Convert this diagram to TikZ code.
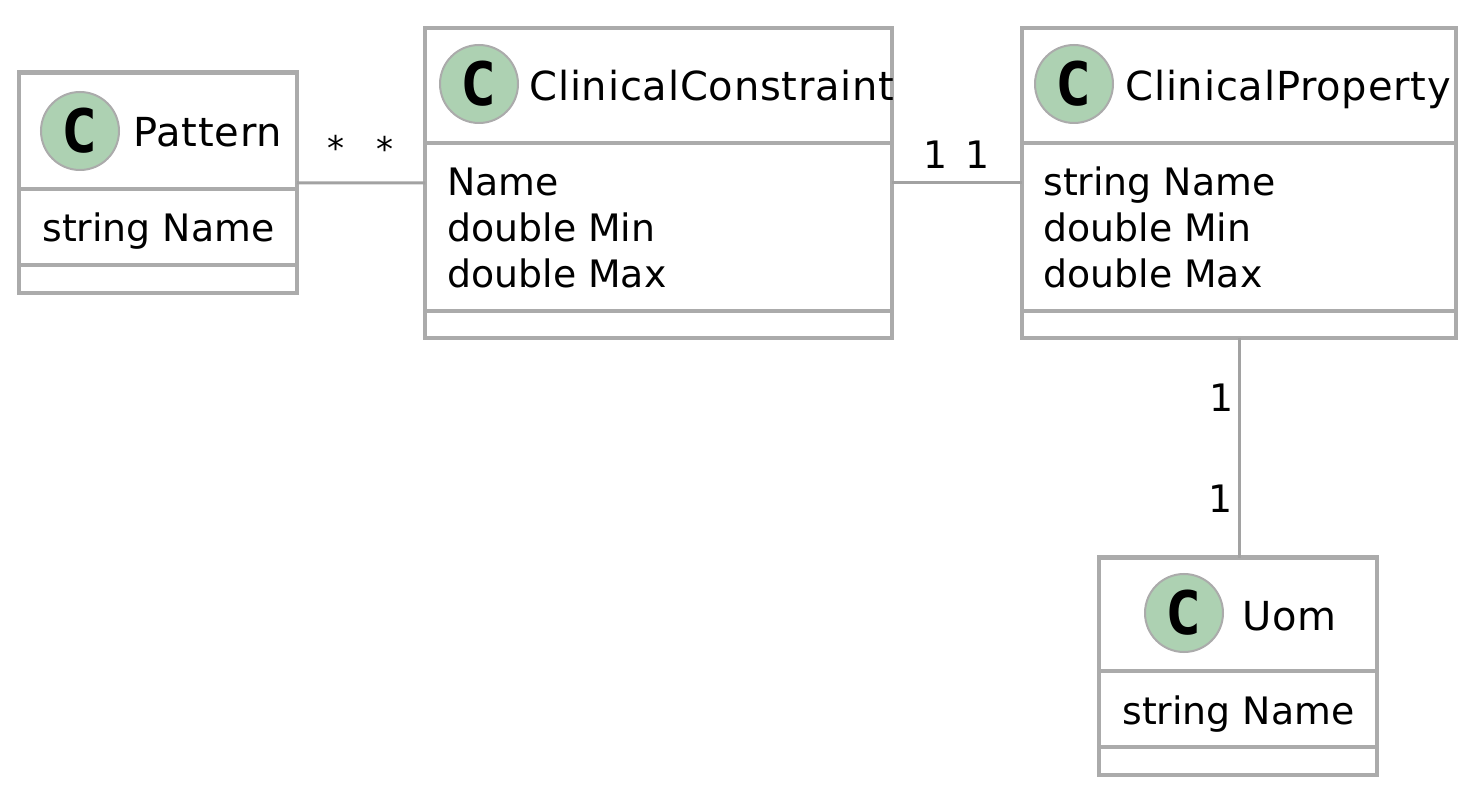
\documentclass[tikz,border=0pt]{standalone}
\usepackage{fontspec}
\setmainfont{DejaVu Sans}
\newfontfamily\titlefont[LetterSpace=2]{DejaVu Sans}
\newfontfamily\badgefont{DejaVu Sans Mono Bold}
\usepackage{tikz}
\usetikzlibrary{positioning}
\definecolor{bordergray}{HTML}{ABABAB}
\definecolor{badgegreen}{HTML}{ADD1B2}
\tikzset{
  cls/.style={rectangle,draw=bordergray,line width=2.4pt,fill=white,inner sep=0pt,outer sep=0pt},
  dv/.style={draw=bordergray,line width=2.4pt},
  ed/.style={draw=bordergray!95!black,line width=1.5pt},
  badge/.style={circle,draw=bordergray,line width=1pt,fill=badgegreen,minimum size=39pt,inner sep=0pt,font=\badgefont\fontsize{30}{30}\selectfont},
  ttl/.style={anchor=base west,inner sep=0pt,font=\titlefont\fontsize{20}{23}\selectfont},
  txt/.style={anchor=base west,inner sep=0pt,font=\fontsize{18.9}{23}\selectfont,align=left},
  mul/.style={inner sep=0pt,font=\fontsize{18.9}{23}\selectfont},
  star/.style={inner sep=0pt,font=\fontsize{17}{17}\selectfont},
}

\begin{document}
\begin{tikzpicture}[x=0.5pt,y=-0.5pt]
  \useasboundingbox (0,0) rectangle (1474,802);

  \node[cls,minimum width=139pt,minimum height=110.25pt] (pat) at (158,182.75) {};
  \node[cls,minimum width=233.5pt,minimum height=155pt] (con) at (658.5,183) {};
  \node[cls,minimum width=217pt,minimum height=155pt] (pro) at (1239,183) {};
  \node[cls,minimum width=139pt,minimum height=108.75pt] (uom) at (1238,666.25) {};

  \draw[ed] (pat.east) -- (con.west);
  \draw[ed] (con.east) -- (pro.west);
  \draw[ed] (pro.south) -- (pro.south |- uom.north);

  \draw[dv] (pat.west |- 0,189) -- (pat.east |- 0,189);
  \draw[dv] (pat.west |- 0,265) -- (pat.east |- 0,265);
  \draw[dv] (con.west |- 0,143) -- (con.east |- 0,143);
  \draw[dv] (con.west |- 0,311) -- (con.east |- 0,311);
  \draw[dv] (pro.west |- 0,143) -- (pro.east |- 0,143);
  \draw[dv] (pro.west |- 0,311) -- (pro.east |- 0,311);
  \draw[dv] (uom.west |- 0,671) -- (uom.east |- 0,671);
  \draw[dv] (uom.west |- 0,747) -- (uom.east |- 0,747);

  \node[badge] (bpat) at (80,131) {C};
  \node[badge] (bcon) at (479,84) {C};
  \node[badge] (bpro) at (1074,84) {C};
  \node[badge] (buom) at (1184,613) {C};

  \node[ttl] (tpat) at (133,147) {Pattern};
  \node[ttl] (tcon) at (529,101) {ClinicalConstraint};
  \node[ttl] (tpro) at (1125,101) {ClinicalProperty};
  \node[ttl] (tuom) at (1242,630) {Uom};

  \node[txt] (apat) at (42,242) {string Name};
  \node[txt] (acon) at (447,288) {Name\\double Min\\double Max};
  \node[txt] (apro) at (1043,288) {string Name\\double Min\\double Max};
  \node[txt] (auom) at (1122,724) {string Name};

  \node[star] (m1) at (336,148) {*};
  \node[star] (m2) at (385,149) {*};
  \node[mul] (m3) at (936,155) {1};
  \node[mul] (m4) at (978,155) {1};
  \node[mul] (m5) at (1222,398) {1};
  \node[mul] (m6) at (1221,499) {1};
\end{tikzpicture}
\end{document}
